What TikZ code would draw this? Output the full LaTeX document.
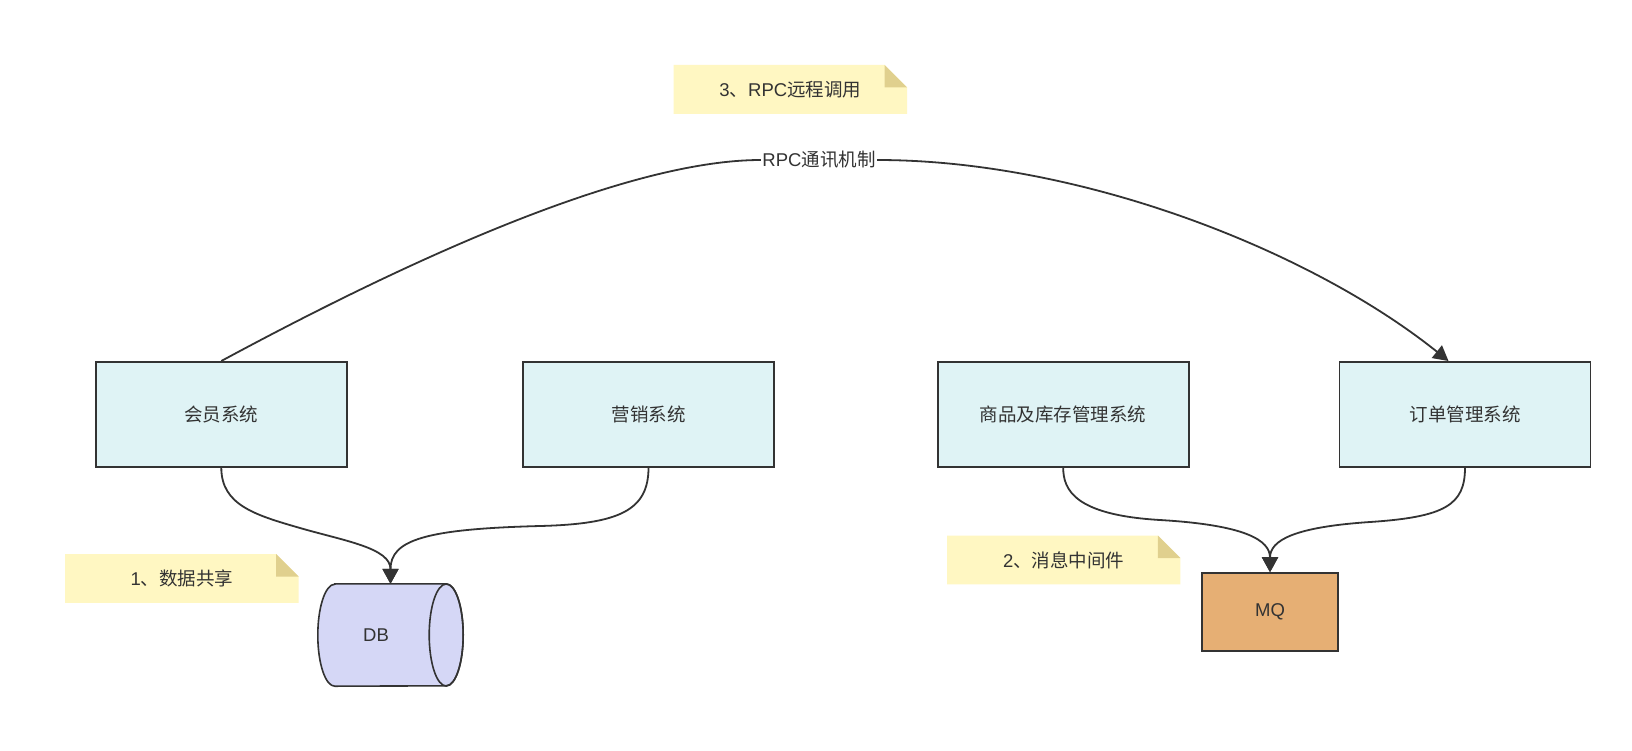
\documentclass[tikz,border=0pt]{standalone}
\usepackage{fontspec}
\setmainfont{Liberation Sans}
\newfontfamily\cjk{Noto Sans CJK SC}
\usetikzlibrary{arrows.meta,backgrounds}
\definecolor{ink}{HTML}{333333}
\definecolor{boxfill}{HTML}{DFF3F5}
\definecolor{dbfill}{HTML}{D5D7F6}
\definecolor{mqfill}{HTML}{E6AF74}
\definecolor{notefill}{HTML}{FFF7C2}
\definecolor{foldfill}{HTML}{E0D08E}
\begin{document}
\begin{tikzpicture}[x=1pt,y=-1pt,
  font=\fontsize{18.5}{22}\selectfont, text=ink,
  sysbox/.style={draw=ink, line width=1.6pt, fill=boxfill, minimum width=251pt, minimum height=105pt, inner sep=0pt},
  notebox/.style={minimum width=233pt, minimum height=48.5pt, inner sep=0pt},
  edge/.style={draw=ink, line width=1.8pt},
  tip/.style={-{Triangle[length=15pt,width=16pt]}}
]
\useasboundingbox (0,0) rectangle (1632,750);

% system boxes
\node[sysbox] (hy) at (221.3,414.3) {\cjk 会员系统};
\node[sysbox] (yx) at (648.5,414.3) {\cjk 营销系统};
\node[sysbox] (sp) at (1063.2,414.3) {\cjk 商品及库存管理系统};
\node[sysbox] (dd) at (1465,414.3) {\cjk 订单管理系统};

% DB cylinder
\node[minimum width=145pt, minimum height=102pt, inner sep=0pt] (db) at (390.5,635) {};
\filldraw[fill=dbfill, draw=ink, line width=1.6pt]
  (db.north west) ++(17pt,0pt) coordinate (dbtl)
  (dbtl) -- ([xshift=-17pt]db.north east)
  arc[start angle=-90, end angle=90, x radius=17, y radius=51]
  -- ([xshift=17pt]db.south west)
  arc[start angle=90, end angle=270, x radius=17, y radius=51] -- cycle;
\draw[ink, line width=1.6pt] ([xshift=-17pt]db.east) ellipse [x radius=17, y radius=51];
\node (dblabel) at (376,635) {DB};

% MQ
\node[draw=ink, line width=1.6pt, fill=mqfill, minimum width=136pt, minimum height=78pt, inner sep=0pt] (mq) at (1270,612) {MQ};

% notes
\node[notebox] (n3) at (790.3,89.3) {3{\cjk 、}RPC{\cjk 远程调用}};
\node[notebox] (n1) at (181.9,578.5) {1{\cjk 、数据共享}};
\node[notebox] (n2) at (1063.7,560) {2{\cjk 、消息中间件}};
\begin{scope}[on background layer]
\fill[white] (0,0) rectangle (1632,750);
\foreach \n in {n1,n2,n3}{
  \fill[notefill] (\n.south west) -- (\n.north west) -- ([xshift=-22.5pt]\n.north east)
     -- ([yshift=-22.5pt]\n.north east) -- (\n.south east) -- cycle;
  \fill[foldfill] ([xshift=-22.5pt]\n.north east) -- ([xshift=-22.5pt,yshift=-22.5pt]\n.north east)
     -- ([yshift=-22.5pt]\n.north east) -- cycle;
}
\end{scope}

% edges to DB
\draw[edge,tip] (hy.south) .. controls (221.3,505) and (255,515) .. (300,528)
  .. controls (345,541) and (390.5,548) .. (db.north);
\draw[edge,tip] (yx.south) .. controls (648.5,510) and (620,524) .. (540,526)
  .. controls (425,529) and (390.5,540) .. (db.north);

% edges to MQ
\draw[edge,tip] (sp.south) .. controls (1063.2,490) and (1075,515) .. (1160,520)
  .. controls (1245,525) and (1270,540) .. (mq.north);
\draw[edge,tip] (dd.south) .. controls (1465,505) and (1445,517) .. (1370,522)
  .. controls (1295,527) and (1270,540) .. (mq.north);

% RPC edge
\node[fill=white, inner xsep=1.5pt, inner ysep=2pt] (rpc) at (819,160) {RPC{\cjk 通讯机制}};
\draw[edge] (hy.north) .. controls (390,270) and (620,160) .. (rpc.west);
\draw[edge,tip] (rpc.east) .. controls (1080,160) and (1310,250) .. ([xshift=-16.5pt]dd.north);
\end{tikzpicture}
\end{document}
